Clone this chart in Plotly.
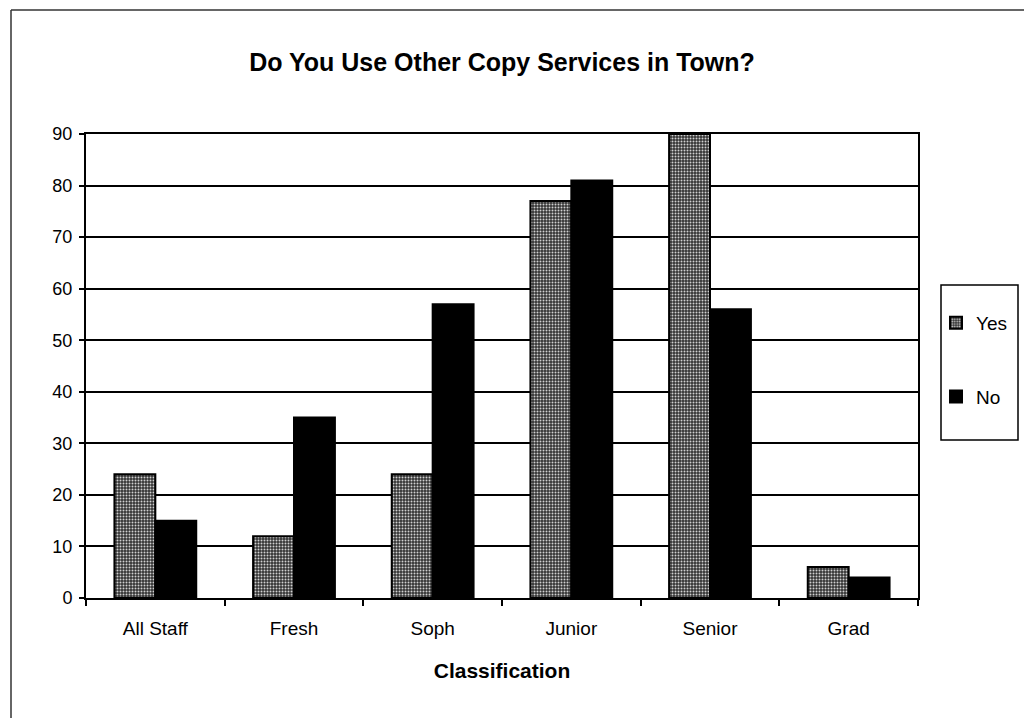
import plotly.graph_objects as go

# Survey answers by student classification
categories = ["All Staff", "Fresh", "Soph", "Junior", "Senior", "Grad"]
yes_counts = [24, 12, 24, 77, 90, 6]
no_counts = [15, 35, 57, 81, 56, 4]
y_ticks = [0, 10, 20, 30, 40, 50, 60, 70, 80, 90]

FONT = "Liberation Sans, Arial, sans-serif"

fig = go.Figure()

fig.add_trace(go.Bar(
    name="Yes",
    x=categories,
    y=yes_counts,
    legendgroup="yes",
    marker=dict(
        color="#6e6e6e",
        line=dict(color="black", width=2),
        pattern=dict(shape=".", fgcolor="#d0d0d0", bgcolor="#333333",
                     size=3, solidity=0.35, fillmode="replace"),
    ),
))
fig.add_trace(go.Bar(
    name="No",
    x=categories,
    y=no_counts,
    legendgroup="no",
    marker=dict(color="black", line=dict(color="black", width=2)),
))

# Outer frame of the chart area (left and top edges)
fig.add_shape(type="line", xref="paper", yref="paper",
              x0=(11 - 86) / 832, x1=(1024 - 86) / 832,
              y0=1 + (134 - 10) / 464, y1=1 + (134 - 10) / 464,
              line=dict(color="#333", width=1.5))
fig.add_shape(type="line", xref="paper", yref="paper",
              x0=(11 - 86) / 832, x1=(11 - 86) / 832,
              y0=1 + (134 - 10) / 464, y1=-(718 - 598) / 464,
              line=dict(color="#333", width=1.5))

# Legend frame
fig.add_shape(type="rect", xref="paper", yref="paper",
              x0=(941 - 86) / 832, x1=(1018 - 86) / 832,
              y0=(598 - 440) / 464, y1=(598 - 285) / 464,
              line=dict(color="black", width=1.5), fillcolor="white",
              layer="below")

fig.update_layout(
    width=1026,
    height=718,
    margin=dict(l=86, r=108, t=134, b=120, autoexpand=False),
    paper_bgcolor="white",
    plot_bgcolor="white",
    font=dict(family=FONT, color="black", size=17),
    barmode="group",
    bargap=0.41,
    bargroupgap=0,
    title=dict(
        text="<b>Do You Use Other Copy Services in Town?</b>",
        x=0.5, xref="paper", xanchor="center",
        y=1 - 62 / 718, yanchor="middle",
        font=dict(family=FONT, size=25, color="black"),
    ),
    xaxis=dict(
        title=dict(text="<b>Classification</b>", font=dict(size=21), standoff=26),
        showline=True, linecolor="black", linewidth=2, mirror=True,
        ticks="outside", tickson="boundaries", ticklen=6, tickwidth=1.5,
        tickcolor="black", showgrid=False,
        tickfont=dict(size=19),
        ticklabelstandoff=12,
    ),
    yaxis=dict(
        range=[0, 90],
        tickvals=y_ticks,
        showline=True, linecolor="black", linewidth=2, mirror=True,
        ticks="outside", ticklen=5, tickwidth=1.5, tickcolor="black",
        showgrid=True, gridcolor="black", gridwidth=1.5,
        zeroline=False,
        tickfont=dict(size=18),
        ticklabelstandoff=3,
    ),
    showlegend=True,
    legend=dict(
        x=(936 - 86) / 832, xanchor="left",
        y=(598 - 304) / 464, yanchor="top",
        bgcolor="rgba(0,0,0,0)", borderwidth=0,
        traceorder="grouped", tracegroupgap=46,
        font=dict(size=19),
        itemwidth=30,
    ),
)

fig.write_html("out.html")
